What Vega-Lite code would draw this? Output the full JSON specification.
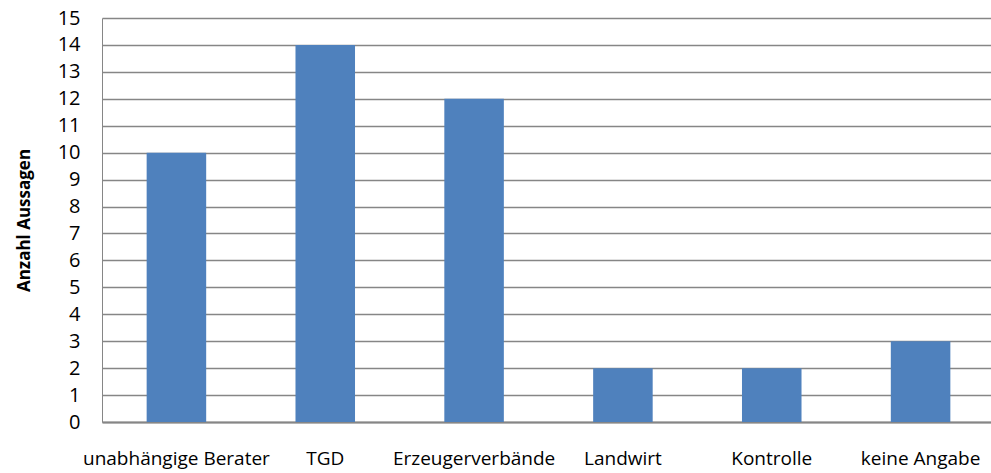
{
  "$schema": "https://vega.github.io/schema/vega-lite/v6.json",
  "autosize": "none",
  "width": 893,
  "height": 404,
  "padding": {"left": 102, "top": 18, "right": 0, "bottom": 51},
  "background": "white",
  "data": {
    "values": [
      {"Kategorie": "unabhängige Berater", "Anzahl": 10},
      {"Kategorie": "TGD", "Anzahl": 14},
      {"Kategorie": "Erzeugerverbände", "Anzahl": 12},
      {"Kategorie": "Landwirt", "Anzahl": 2},
      {"Kategorie": "Kontrolle", "Anzahl": 2},
      {"Kategorie": "keine Angabe", "Anzahl": 3}
    ]
  },
  "config": {
    "view": {"stroke": null},
    "font": "Open Sans"
  },
  "mark": {"type": "bar", "color": "#4F81BD"},
  "encoding": {
    "x": {
      "field": "Kategorie",
      "type": "nominal",
      "sort": null,
      "scale": {"paddingInner": 0.6, "paddingOuter": 0.3},
      "axis": {
        "title": null,
        "labelAngle": 0,
        "labelFont": "Open Sans",
        "labelFontSize": 19,
        "labelColor": "#000000",
        "labelPadding": 27,
        "labelLimit": 0,
        "labelOverlap": false,
        "ticks": false,
        "domainColor": "#868686",
        "domainWidth": 2,
        "grid": false
      }
    },
    "y": {
      "field": "Anzahl",
      "type": "quantitative",
      "scale": {"domain": [0, 15], "nice": false},
      "axis": {
        "title": "Anzahl Aussagen",
        "titleFont": "Open Sans",
        "titleFontSize": 17,
        "titleFontWeight": "bold",
        "titleColor": "#000000",
        "titlePadding": 24,
        "values": [0,1,2,3,4,5,6,7,8,9,10,11,12,13,14,15],
        "labelFont": "Open Sans",
        "labelFontSize": 20,
        "labelColor": "#000000",
        "labelPadding": 22,
        "ticks": false,
        "domainColor": "#868686",
        "domainWidth": 1,
        "grid": true,
        "gridColor": "#868686",
        "gridWidth": 1.3
      }
    }
  }
}
